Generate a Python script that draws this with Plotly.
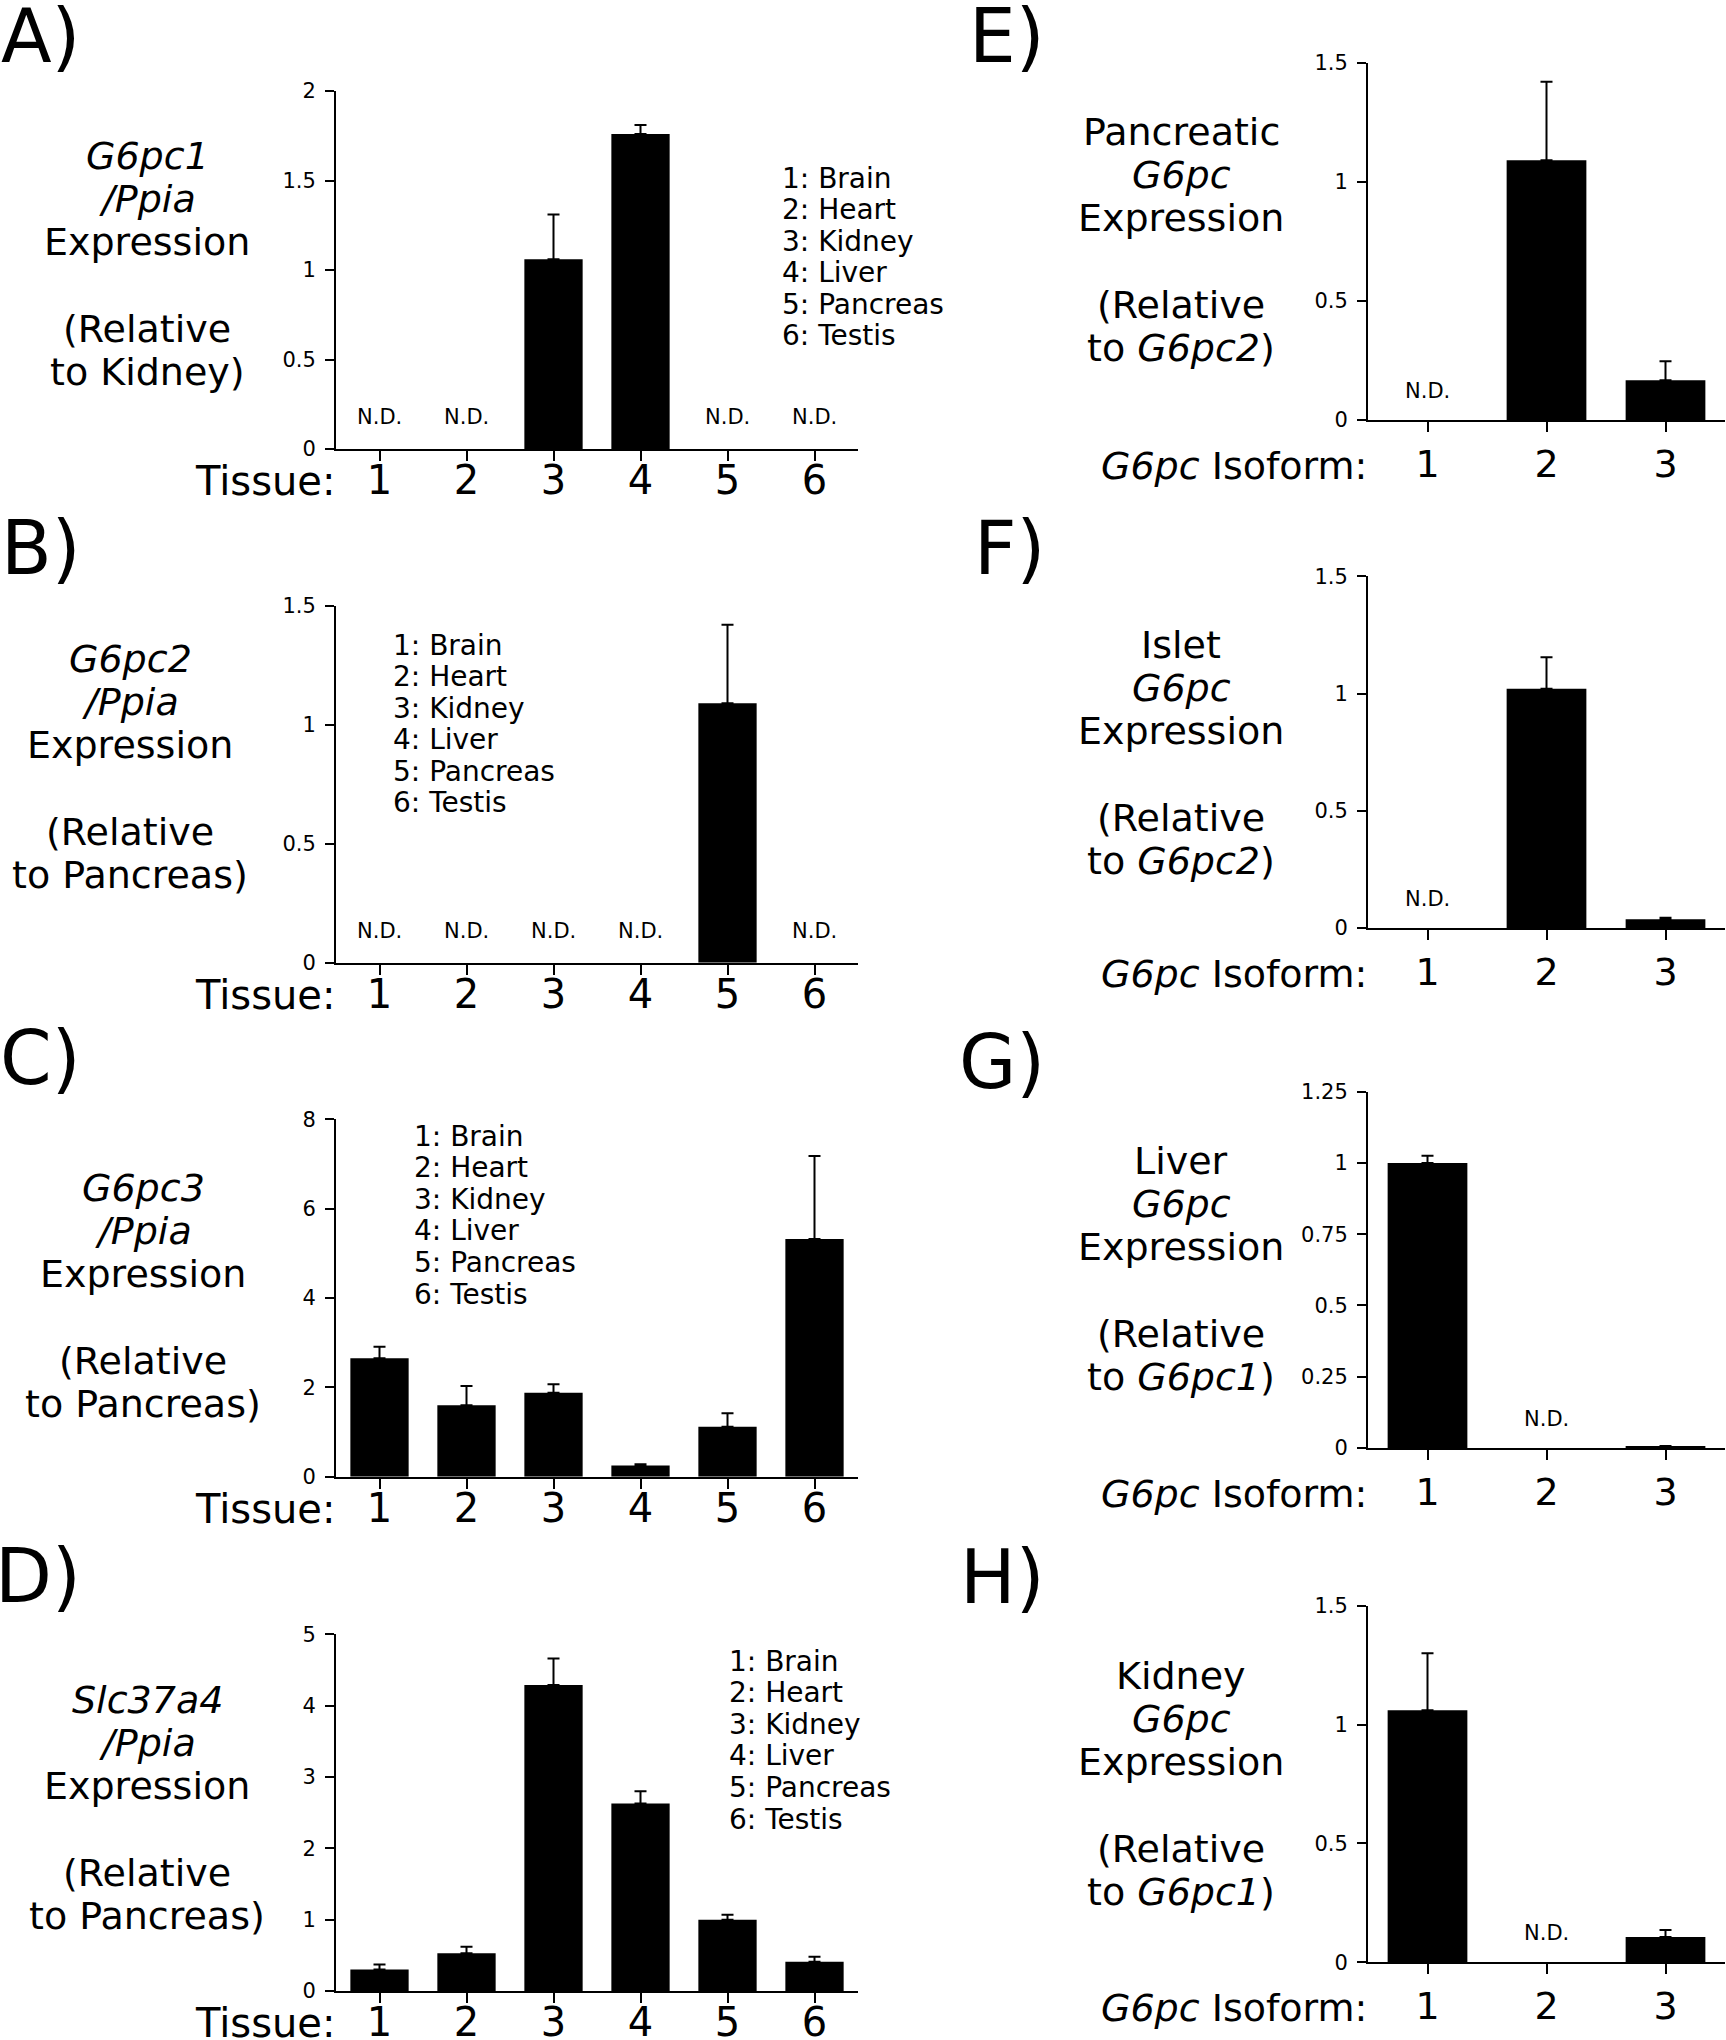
import plotly.graph_objects as go

# ---------------- data ----------------
tissue_ids = [1, 2, 3, 4, 5, 6]
tissue_names = ["Brain", "Heart", "Kidney", "Liver", "Pancreas", "Testis"]
isoform_ids = [1, 2, 3]

# None = N.D. (not detected); err = upper error bar length
g6pc1_vals = [None, None, 1.06, 1.76, None, None]
g6pc1_err = [None, None, 0.25, 0.05, None, None]

g6pc2_vals = [None, None, None, None, 1.09, None]
g6pc2_err = [None, None, None, None, 0.33, None]

g6pc3_vals = [2.65, 1.60, 1.88, 0.25, 1.12, 5.32]
g6pc3_err = [0.26, 0.43, 0.19, 0.03, 0.30, 1.86]

slc37a4_vals = [0.30, 0.53, 4.29, 2.63, 1.00, 0.41]
slc37a4_err = [0.07, 0.09, 0.37, 0.17, 0.07, 0.07]

pancreatic_vals = [None, 1.09, 0.167]
pancreatic_err = [None, 0.33, 0.08]

islet_vals = [None, 1.02, 0.037]
islet_err = [None, 0.135, 0.007]

liver_vals = [1.00, None, 0.007]
liver_err = [0.025, None, 0.0]

kidney_vals = [1.06, None, 0.106]
kidney_err = [0.24, None, 0.03]

# ---------------- layout helpers ----------------
W, H = 1726, 2040
FONT = "DejaVu Sans"


def px_x(v):
    return v / W


def px_y(v):
    return 1 - v / H


LEFT_X = (336, 858)
RIGHT_X = (1368, 1725)

panels = [
    dict(letter="A)", side="L", top=91, bottom=449, ids=tissue_ids, vals=g6pc1_vals, errs=g6pc1_err,
         ymax=2, dtick=0.5,
         title=["<i>G6pc1</i>", "<i>/Ppia</i>", "Expression", "", "(Relative", "to Kidney)"],
         tx=147, ty=156, legend=(780, 178), letter_y=36),
    dict(letter="B)", side="L", top=605.7, bottom=962.7, ids=tissue_ids, vals=g6pc2_vals, errs=g6pc2_err,
         ymax=1.5, dtick=0.5,
         title=["<i>G6pc2</i>", "<i>/Ppia</i>", "Expression", "", "(Relative", "to Pancreas)"],
         tx=130, ty=659, legend=(391, 645), letter_y=548),
    dict(letter="C)", side="L", top=1119.3, bottom=1476.7, ids=tissue_ids, vals=g6pc3_vals, errs=g6pc3_err,
         ymax=8, dtick=2,
         title=["<i>G6pc3</i>", "<i>/Ppia</i>", "Expression", "", "(Relative", "to Pancreas)"],
         tx=143, ty=1188, legend=(412, 1136), letter_y=1058),
    dict(letter="D)", side="L", top=1634.3, bottom=1991, ids=tissue_ids, vals=slc37a4_vals, errs=slc37a4_err,
         ymax=5, dtick=1,
         title=["<i>Slc37a4</i>", "<i>/Ppia</i>", "Expression", "", "(Relative", "to Pancreas)"],
         tx=147, ty=1700, legend=(727, 1661), letter_y=1576),
    dict(letter="E)", side="R", top=62.7, bottom=420, ids=isoform_ids, vals=pancreatic_vals, errs=pancreatic_err,
         ymax=1.5, dtick=0.5,
         title=["Pancreatic", "<i>G6pc</i>", "Expression", "", "(Relative", "to <i>G6pc2</i>)"],
         tx=1181, ty=132, legend=None, letter_y=36),
    dict(letter="F)", side="R", top=576.3, bottom=928, ids=isoform_ids, vals=islet_vals, errs=islet_err,
         ymax=1.5, dtick=0.5,
         title=["Islet", "<i>G6pc</i>", "Expression", "", "(Relative", "to <i>G6pc2</i>)"],
         tx=1181, ty=645, legend=None, letter_y=548),
    dict(letter="G)", side="R", top=1091.7, bottom=1448, ids=isoform_ids, vals=liver_vals, errs=liver_err,
         ymax=1.25, dtick=0.25,
         title=["Liver", "<i>G6pc</i>", "Expression", "", "(Relative", "to <i>G6pc1</i>)"],
         tx=1181, ty=1161, legend=None, letter_y=1062),
    dict(letter="H)", side="R", top=1605.7, bottom=1962.3, ids=isoform_ids, vals=kidney_vals, errs=kidney_err,
         ymax=1.5, dtick=0.5,
         title=["Kidney", "<i>G6pc</i>", "Expression", "", "(Relative", "to <i>G6pc1</i>)"],
         tx=1181, ty=1676, legend=None, letter_y=1577),
]

fig = go.Figure()
annotations = []
layout_axes = {}

for i, p in enumerate(panels):
    n = i + 1
    xname = "x" if n == 1 else f"x{n}"
    yname = "y" if n == 1 else f"y{n}"
    xkey = "xaxis" if n == 1 else f"xaxis{n}"
    ykey = "yaxis" if n == 1 else f"yaxis{n}"
    left = p["side"] == "L"
    xl, xr = LEFT_X if left else RIGHT_X

    errs = [e if e is not None else 0 for e in p["errs"]]
    fig.add_trace(go.Bar(
        x=p["ids"], y=p["vals"], xaxis=xname, yaxis=yname,
        marker=dict(color="black", line=dict(width=0)),
        error_y=dict(type="data", array=errs, arrayminus=[0] * len(errs), symmetric=False,
                     color="black", thickness=2, width=6),
        showlegend=False, hoverinfo="skip",
    ))

    layout_axes[xkey] = dict(
        domain=[px_x(xl), px_x(xr)], anchor=yname, automargin=False,
        range=[0.5, len(p["ids"]) + 0.5],
        tickvals=p["ids"], ticktext=[str(v) for v in p["ids"]],
        showline=True, linecolor="black", linewidth=2,
        ticks="outside", ticklen=10, tickwidth=2, tickcolor="black",
        tickfont=dict(family=FONT, size=40 if left else 38, color="black"),
        ticklabelstandoff=-15 if left else -1,
        showgrid=False, zeroline=False, fixedrange=True,
    )
    layout_axes[ykey] = dict(
        domain=[px_y(p["bottom"]), px_y(p["top"])], anchor=xname, automargin=False,
        range=[0, p["ymax"]], tick0=0, dtick=p["dtick"],
        showline=True, linecolor="black", linewidth=2,
        ticks="outside", ticklen=9, tickwidth=2, tickcolor="black",
        tickfont=dict(family=FONT, size=21, color="black"),
        ticklabelstandoff=5,
        showgrid=False, zeroline=False, fixedrange=True,
    )

    # N.D. labels
    for xid, v in zip(p["ids"], p["vals"]):
        if v is None:
            annotations.append(dict(
                x=xid, y=0, xref=xname, yref=yname, text="N.D.", showarrow=False,
                yshift=32 if left else 29, xanchor="center", yanchor="middle",
                font=dict(family=FONT, size=21, color="black"),
            ))

    # panel letter
    annotations.append(dict(
        x=px_x(83 if left else 1047), y=px_y(p["letter_y"]), xref="paper", yref="paper",
        text=p["letter"], showarrow=False, xanchor="right", yanchor="middle",
        font=dict(family=FONT, size=74, color="black"),
    ))

    # y title, line by line
    for k, line in enumerate(p["title"]):
        if not line:
            continue
        annotations.append(dict(
            x=px_x(p["tx"]), y=px_y(p["ty"] + k * 43.2), xref="paper", yref="paper",
            text=line, showarrow=False, xanchor="center", yanchor="middle",
            font=dict(family=FONT, size=38, color="black"),
        ))

    # x label
    annotations.append(dict(
        x=px_x(xl + 1), y=px_y(p["bottom"] + (32 if left else 46)), xref="paper", yref="paper",
        text="Tissue:" if left else "<i>G6pc</i> Isoform:", showarrow=False,
        xanchor="right", yanchor="middle",
        font=dict(family=FONT, size=40 if left else 38, color="black"),
    ))

    # tissue key
    if p["legend"] is not None:
        lx, ly = p["legend"]
        for k, (tid, name) in enumerate(zip(tissue_ids, tissue_names)):
            annotations.append(dict(
                x=px_x(lx), y=px_y(ly + k * 31.6), xref="paper", yref="paper",
                text=f"{tid}: {name}", showarrow=False, xanchor="left", yanchor="middle",
                font=dict(family=FONT, size=28, color="black"),
            ))

fig.update_layout(
    width=W, height=H,
    margin=dict(l=0, r=0, t=0, b=0, pad=0, autoexpand=False),
    paper_bgcolor="white", plot_bgcolor="white",
    bargap=0.33, showlegend=False,
    font=dict(family=FONT, color="black"),
    annotations=annotations,
    **layout_axes,
)

fig.write_html(
    "out.html",
    config={"displayModeBar": False, "staticPlot": True},
    post_script="document.body.style.margin='0';document.body.style.overflow='hidden';",
)
